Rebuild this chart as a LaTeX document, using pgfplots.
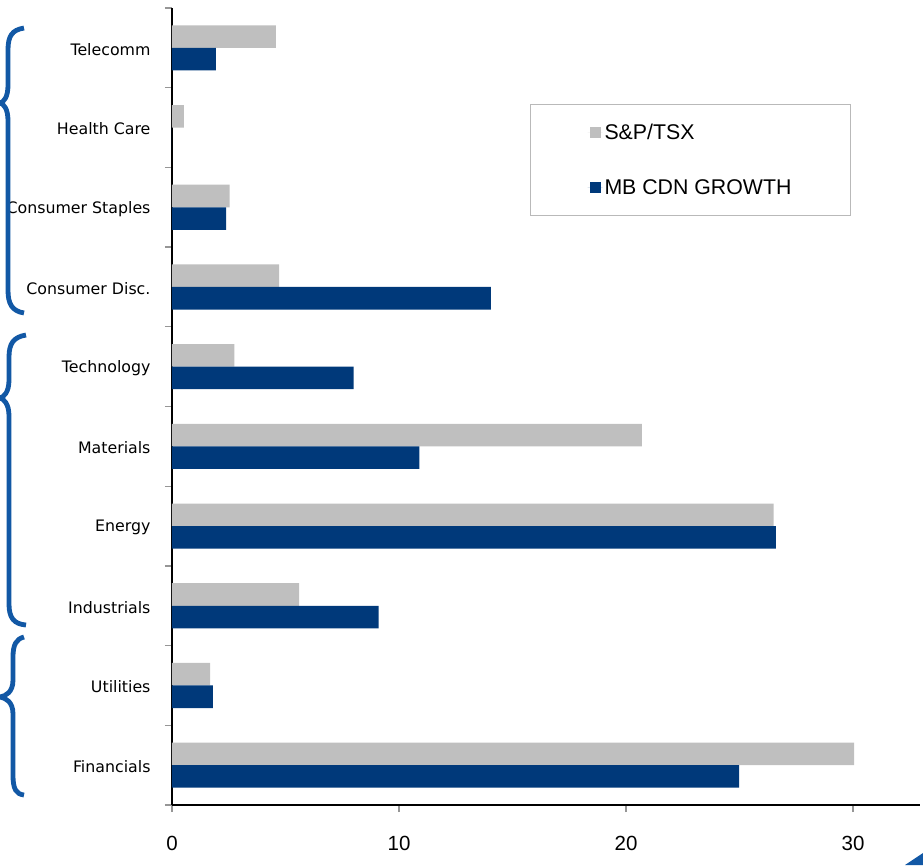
\documentclass[border=0pt]{standalone}
\usepackage{pgfplots}
\pgfplotsset{compat=1.18}
\usepackage{fontspec}
\setmainfont{DejaVu Sans}
\newfontfamily\arialfont{Liberation Sans}
\definecolor{tsx}{RGB}{191,191,191}
\definecolor{mbc}{RGB}{0,57,122}
\definecolor{bracec}{RGB}{18,88,165}
\definecolor{tickc}{RGB}{150,150,150}
\begin{document}
\begin{tikzpicture}
\begin{axis}[
  at={(172pt,-805pt)}, anchor=south west,
  scale only axis, width=748pt, height=797pt,
  xmin=0, xmax=32.95, ymin=-0.5, ymax=9.5,
  axis x line*=bottom, axis y line*=left,
  axis line style={black, line width=1.3pt},
  xbar, bar width=0.283,
  xtick={0,10,20,30}, xticklabels={0,10,20,30},
  tick style={tickc, line width=1.3pt},
  major tick length=7pt,
  tick align=outside,
  xticklabel style={font=\arialfont\fontsize{20.5}{24}\selectfont, yshift=-21pt},
  ytick={-0.5,0.5,...,9.5}, yticklabels={},
  extra y ticks={0,...,9},
  extra y tick labels={Financials,Utilities,Industrials,Energy,Materials,Technology,Consumer Disc.,Consumer Staples,Health Care,Telecomm},
  extra y tick style={tick style={draw=none}, yticklabel style={font=\fontsize{15.8}{18}\selectfont, xshift=-11pt, yshift=-1.5pt}},
  legend style={at={(0.4786,0.8796)}, anchor=north west, draw=gray!55, line width=1pt,
    font=\arialfont\fontsize{21.3}{25}\selectfont, inner xsep=57pt, inner ysep=18pt, row sep=34pt},
  legend cell align=left,
  legend image code/.code={\fill (2pt,-5pt) rectangle (13pt,6pt); \path (0pt,0pt) -- (15pt,0pt);},
]
\addplot[fill=tsx, draw=none, bar shift=0.1415] coordinates {
 (30.05,0) (1.68,1) (5.6,2) (26.5,3) (20.7,4) (2.75,5) (4.72,6) (2.54,7) (0.52,8) (4.58,9)};
\addlegendentry{S\&P/TSX}
\addplot[fill=mbc, draw=none, bar shift=-0.1415] coordinates {
 (24.98,0) (1.8,1) (9.1,2) (26.6,3) (10.9,4) (8.0,5) (14.05,6) (2.38,7) (0,8) (1.93,9)};
\addlegendentry{MB CDN GROWTH}
\end{axis}
\begin{scope}[bracec, line width=4.8pt, line cap=butt]
\draw (24pt,-28pt) .. controls (12pt,-30pt) and (8pt,-36pt) .. (8pt,-50pt) -- (8pt,-85pt) .. controls (8pt,-97pt) and (4pt,-102pt) .. (0pt,-103pt) .. controls (4pt,-104pt) and (8pt,-109pt) .. (8pt,-121pt) -- (8pt,-290pt) .. controls (8pt,-304pt) and (12pt,-311pt) .. (24pt,-313pt);
\draw (26pt,-335pt) .. controls (14pt,-337pt) and (9pt,-343pt) .. (9pt,-357pt) -- (9pt,-380pt) .. controls (9pt,-392pt) and (4pt,-397pt) .. (0pt,-398pt) .. controls (4pt,-399pt) and (9pt,-404pt) .. (9pt,-416pt) -- (9pt,-604pt) .. controls (9pt,-618pt) and (14pt,-624pt) .. (26pt,-625pt);
\draw (24pt,-637pt) .. controls (16pt,-639pt) and (13pt,-645pt) .. (13pt,-657pt) -- (13pt,-680pt) .. controls (13pt,-692pt) and (6pt,-696pt) .. (0pt,-697pt) .. controls (6pt,-698pt) and (13pt,-702pt) .. (13pt,-714pt) -- (13pt,-775pt) .. controls (13pt,-789pt) and (16pt,-794pt) .. (24pt,-795pt);
\end{scope}
\fill[bracec] (923pt,-853pt) -- (923pt,-865pt) -- (905pt,-865pt) -- cycle;
\pgfresetboundingbox
\useasboundingbox (0pt,0pt) rectangle (923pt,-865pt);
\end{tikzpicture}
\end{document}
